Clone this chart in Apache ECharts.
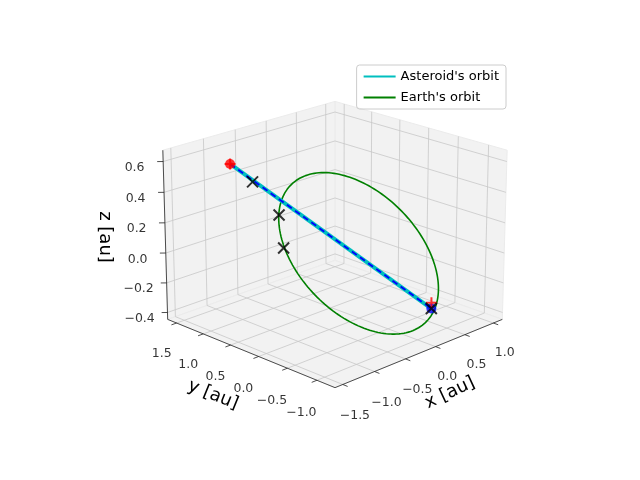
<!DOCTYPE html>
<html><head><meta charset="utf-8">
<script src="https://cdn.jsdelivr.net/npm/echarts@6/dist/echarts.min.js"></script>
<style>html,body{margin:0;background:#fff}#c{width:640px;height:480px}</style>
</head><body><div id="c"></div>
<script>
// ---- data ----
const xTicks = [-1.5, -1.0, -0.5, 0.0, 0.5, 1.0];
const yTicks = [-1.0, -0.5, 0.0, 0.5, 1.0, 1.5];
const zTicks = [-0.4, -0.2, 0.0, 0.2, 0.4, 0.6];
const xLim = [-1.62, 1.16];
const yLim = [-1.3, 1.67];
const zLim = [-0.447, 0.673];
const asteroidStart = [-1.14, 1.02, 0.6];
const asteroidEnd = [0.66, -0.58, -0.4];
const markX = [-0.83, -0.68, -0.71, 0.66];
const markY = [0.98, 0.68, 0.57, -0.58];
const markZ = [0.45, 0.25, 0.05, -0.4];
const earthAngles = Array.from({length: 181}, (_, i) => i * 2);
const obliquity = 23.44;

// ---- projection ----
const elev = 20 * Math.PI / 180, azim = -135 * Math.PI / 180, S = 60, CX = 335, CY = 236, D = 36;
function P(x, y, z) {
  const X = 4 * (x - (xLim[0] + xLim[1]) / 2) / (xLim[1] - xLim[0]);
  const Y = 4 * (y - (yLim[0] + yLim[1]) / 2) / (yLim[1] - yLim[0]);
  const Z = 3 * (z - (zLim[0] + zLim[1]) / 2) / (zLim[1] - zLim[0]);
  const u = -Math.sin(azim) * X + Math.cos(azim) * Y;
  const v = -Math.sin(elev) * (Math.cos(azim) * X + Math.sin(azim) * Y) + Math.cos(elev) * Z;
  const w = Math.cos(elev) * (Math.cos(azim) * X + Math.sin(azim) * Y) + Math.sin(elev) * Z;
  const f = D / (D - w);
  return [CX + S * u * f, CY - S * v * f];
}
const [x0, x1] = xLim, [y0, y1] = yLim, [z0, z1] = zLim;
const ob = obliquity * Math.PI / 180;
const earth = earthAngles.map(d => { const t = d * Math.PI / 180; return P(Math.cos(t), Math.cos(ob) * Math.sin(t), Math.sin(ob) * Math.sin(t)); });
const ast = [P(...asteroidStart), P(...asteroidEnd)];

const panes = [
  [P(x1,y0,z0),P(x1,y1,z0),P(x1,y1,z1),P(x1,y0,z1)],
  [P(x0,y1,z0),P(x1,y1,z0),P(x1,y1,z1),P(x0,y1,z1)],
  [P(x0,y0,z0),P(x1,y0,z0),P(x1,y1,z0),P(x0,y1,z0)]
];
const grid = [];
function seg(a, b) { grid.push(a, b, [null, null]); }
xTicks.forEach(x => { seg(P(x,y0,z0),P(x,y1,z0)); seg(P(x,y1,z0),P(x,y1,z1)); });
yTicks.forEach(y => { seg(P(x0,y,z0),P(x1,y,z0)); seg(P(x1,y,z0),P(x1,y,z1)); });
zTicks.forEach(z => { seg(P(x1,y0,z),P(x1,y1,z)); seg(P(x0,y1,z),P(x1,y1,z)); });
const axes = [P(x0,y0,z0),P(x1,y0,z0),[null,null],P(x0,y0,z0),P(x0,y1,z0),[null,null],P(x0,y1,z0),P(x0,y1,z1)];
const ticks = [];
xTicks.forEach(x => ticks.push(P(x,y0,z0),P(x,y0-0.08,z0),[null,null]));
yTicks.forEach(y => ticks.push(P(x0,y,z0),P(x0-0.08,y,z0),[null,null]));
zTicks.forEach(z => ticks.push(P(x0,y1,z),P(x0-0.05,y1+0.05,z),[null,null]));
const fmt = v => (v < 0 ? '\u2212' : '') + Math.abs(v).toFixed(1);
const labels = [];
xTicks.forEach(x => labels.push({value: P(x, y0 - 0.2, z0 - 0.17), name: fmt(x)}));
yTicks.forEach(y => labels.push({value: P(x0 - 0.24, y, z0 - 0.17), name: fmt(y)}));
zTicks.forEach(z => labels.push({value: P(x0 - 0.24, y1 + 0.24, z - 0.04), name: fmt(z)}));

const font = 'DejaVu Sans';
const chart = echarts.init(document.getElementById('c'));
chart.setOption({
  animation: false,
  textStyle: {fontFamily: font},
  grid: {left: 0, right: 0, top: 0, bottom: 0},
  xAxis: {type: 'value', min: 0, max: 640, show: false},
  yAxis: {type: 'value', min: 0, max: 480, inverse: true, show: false},
  legend: {
    right: 134, top: 65, orient: 'vertical', itemWidth: 32, itemHeight: 2, itemGap: 8,
    padding: [5, 7], borderColor: '#ccc', borderWidth: 1, borderRadius: 3,
    textStyle: {fontFamily: font, fontSize: 13, color: '#000'},
    data: [{name: "Asteroid's orbit", icon: 'rect'}, {name: "Earth's orbit", icon: 'rect'}]
  },
  series: [
    {type: 'custom', silent: true, z: 1, data: panes.map((p, i) => i),
      renderItem: (params, api) => ({type: 'polygon', shape: {points: panes[params.dataIndex].map(q => api.coord(q))},
        style: {fill: 'rgba(242,242,242,1)', stroke: 'rgba(235,235,235,1)'}})},
    {type: 'line', data: grid, symbol: 'none', silent: true, z: 2, lineStyle: {color: '#c8c8c8', width: 0.8}},
    {type: 'line', data: axes, symbol: 'none', silent: true, z: 3, lineStyle: {color: '#222', width: 0.8}},
    {type: 'line', data: ticks, symbol: 'none', silent: true, z: 3, lineStyle: {color: '#222', width: 0.8}},
    {type: 'scatter', data: labels, symbolSize: 0, silent: true, z: 4,
      label: {show: true, formatter: p => p.name, fontSize: 12.5, color: '#000', fontFamily: font}},
    {name: "Earth's orbit", type: 'line', data: earth, symbol: 'none', z: 5, color: '#008000', lineStyle: {color: '#008000', width: 1.6}},
    {name: "Asteroid's orbit", type: 'line', data: ast, symbol: 'none', z: 6, color: '#00bfbf', lineStyle: {color: '#00bfbf', width: 4}},
    {type: 'line', data: ast, symbol: 'none', z: 7, lineStyle: {color: '#0000ff', width: 1.8, type: [6, 4]}},
    {type: 'scatter', data: [ast[0]], symbol: 'circle', symbolSize: 10, z: 8, itemStyle: {color: '#ff0000'}},
    {type: 'scatter', data: [ast[1]], symbol: 'circle', symbolSize: 10, z: 8, itemStyle: {color: '#0000ff'}},
    {type: 'scatter', data: [P(...asteroidStart), P(asteroidEnd[0], asteroidEnd[1], asteroidEnd[2] + 0.04)], z: 9,
      symbol: 'path://M0,-5L0,5M-5,0L5,0', symbolSize: 11, itemStyle: {color: 'none', borderColor: '#ff0000', borderWidth: 2}},
    {type: 'scatter', data: markX.map((x, i) => P(x, markY[i], markZ[i])), z: 10,
      symbol: 'path://M-5,-5L5,5M-5,5L5,-5', symbolSize: 11, itemStyle: {color: 'none', borderColor: '#000', borderWidth: 2}}
  ],
  graphic: [
    {type: 'text', x: 450, y: 393, rotation: 25 * Math.PI / 180,
      style: {text: 'x [au]', font: '18px DejaVu Sans', fill: '#000', textAlign: 'center', textVerticalAlign: 'middle'}},
    {type: 'text', x: 213, y: 395, rotation: -22 * Math.PI / 180,
      style: {text: 'y [au]', font: '18px DejaVu Sans', fill: '#000', textAlign: 'center', textVerticalAlign: 'middle'}},
    {type: 'text', x: 105, y: 237, rotation: -Math.PI / 2,
      style: {text: 'z [au]', font: '18px DejaVu Sans', fill: '#000', textAlign: 'center', textVerticalAlign: 'middle'}}
  ]
});
</script></body></html>
